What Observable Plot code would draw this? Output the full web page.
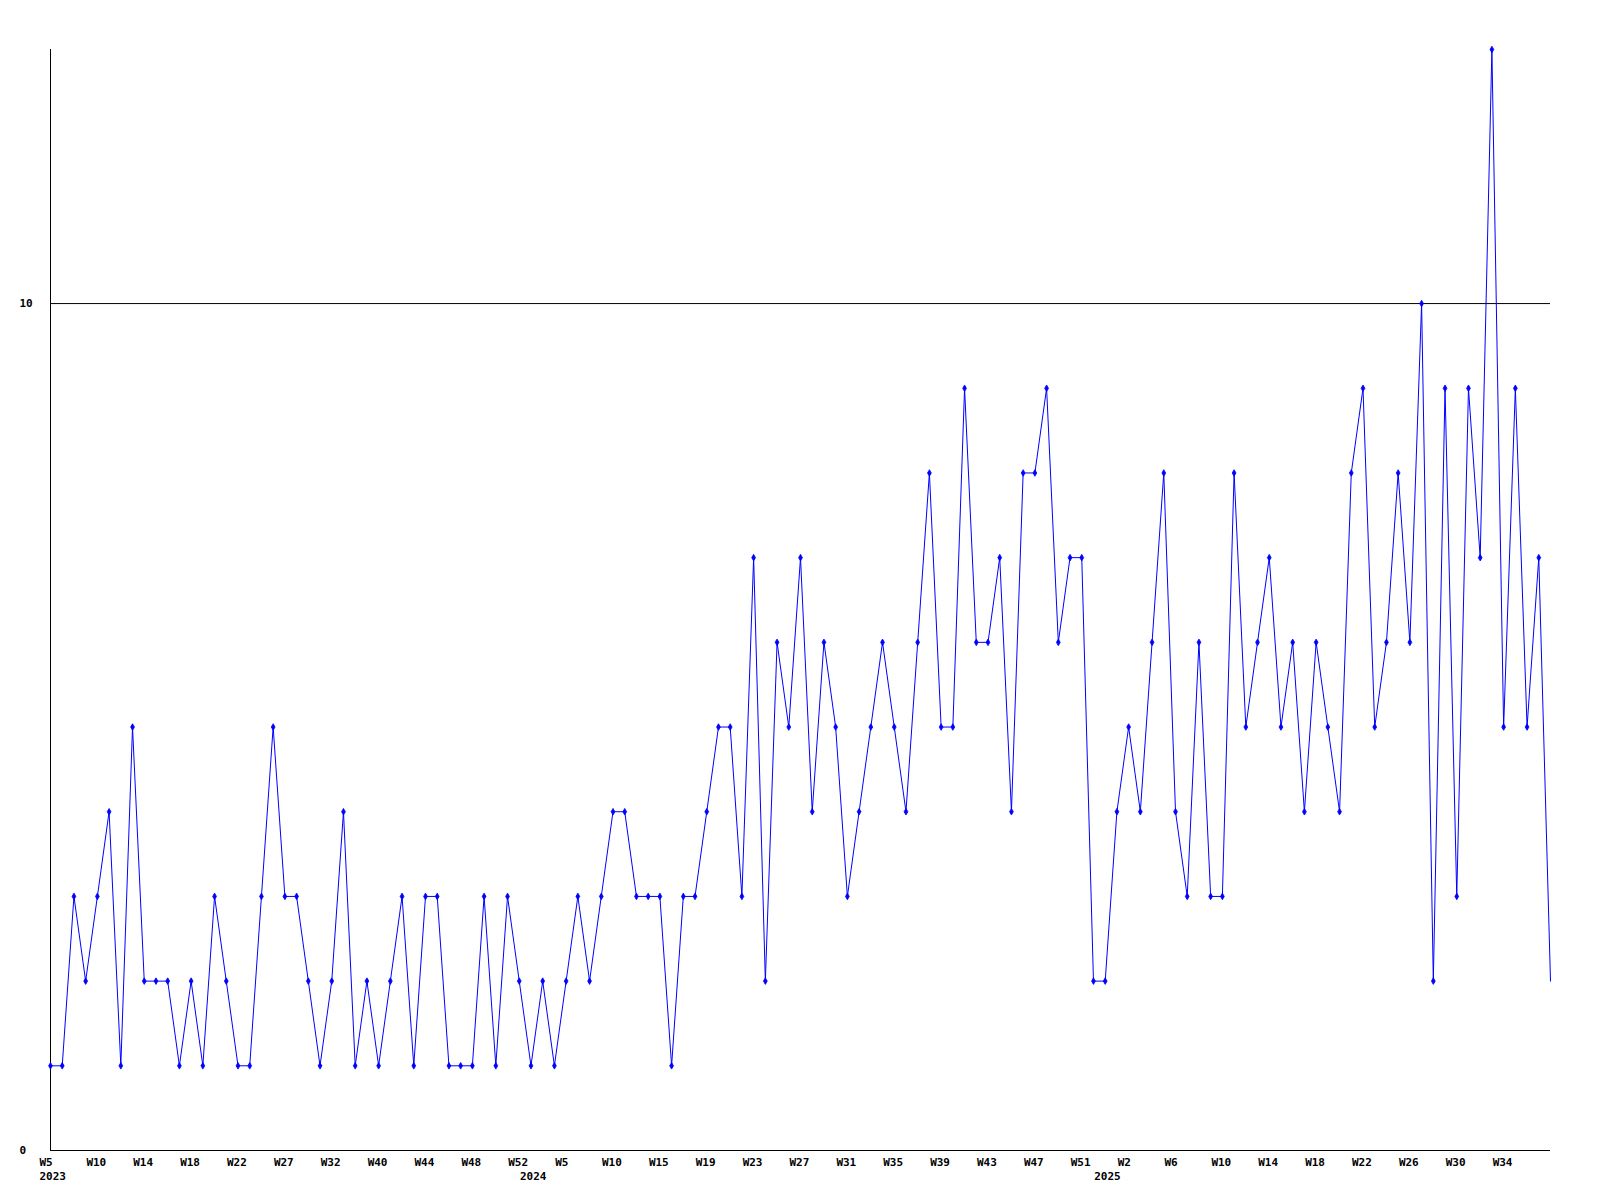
<!DOCTYPE html>
<html>
<head>
<meta charset="utf-8">
<script src="https://cdn.jsdelivr.net/npm/d3@7"></script>
<script src="https://cdn.jsdelivr.net/npm/@observablehq/plot@0.6"></script>
<style>
  html, body { margin: 0; padding: 0; background: #fff; }
  #chart svg { display: block; }
</style>
</head>
<body>
<div id="chart"></div>
<script>
// Week labels per point (categorical; some weeks absent in the source data)
const weeks2023 = ["W5","W6","W7","W8","W10","W11","W12","W13","W14","W15","W16","W17","W18","W19","W20","W21","W22","W23","W24","W25","W27","W28","W29","W30","W32","W34","W36","W38","W40","W41","W42","W43","W44","W45","W46","W47","W48","W49","W50","W51","W52"];
const weeks2024 = ["W1","W2","W3","W5","W6","W7","W8","W10","W11","W12","W13","W15","W16","W17","W18","W19","W20","W21","W22","W23","W24","W25","W26","W27","W28","W29","W30","W31","W32","W33","W34","W35","W36","W37","W38","W39","W40","W41","W42","W43","W44","W45","W46","W47","W48","W49","W50","W51","W52"];
const weeks2025 = ["W0","W1","W2","W3","W4","W5","W6","W7","W8","W9","W10","W11","W12","W13","W14","W15","W16","W17","W18","W19","W20","W21","W22","W23","W24","W25","W26","W27","W28","W29","W30","W31","W32","W33","W34","W35","W36","W37","W38"];
const years = ["2023", "2024", "2025"];

const values = [
  1,1,3,2,3,4,1,5,2,2, 2,1,2,1,3,2,1,1,3,5,
  3,3,2,1,2,4,1,2,1,2, 3,1,3,3,1,1,1,3,1,3,
  2,1,2,1,2,3,2,3,4,4, 3,3,3,1,3,3,4,5,5,3,
  7,2,6,5,7,4,6,5,3,4, 5,6,5,4,6,8,5,5,9,6,
  6,7,4,8,8,9,6,7,7,2, 2,4,5,4,6,8,4,3,6,3,
  3,8,5,6,7,5,6,4,6,5, 4,8,9,5,6,8,6,10,2,9,
  3,9,7,13,5,9,5,7,2
];

const yTicks = [0, 10];
const yMax = 13;
const tickEvery = 4;

// Build table
const weekLists = [weeks2023, weeks2024, weeks2025];
const data = [];
weekLists.forEach((list, yi) => {
  list.forEach((w, wi) => {
    data.push({ key: years[yi] + "-" + w, week: w, year: years[yi], firstOfYear: wi === 0 });
  });
});
data.forEach((d, i) => { d.value = values[i]; d.i = i; });
const keys = data.map(d => d.key);
const lastI = data.length - 1;
const tickData = data.filter(d => d.i % tickEvery === 0 && d.i < lastI);
const yearData = data.filter(d => d.firstOfYear);

const font = "DejaVu Sans Mono, Liberation Mono, monospace";

const chart = Plot.plot({
  width: 1600,
  height: 1200,
  marginLeft: 50,
  marginRight: 50,
  marginTop: 49,
  marginBottom: 50,
  style: { fontFamily: font, fontSize: "11px", fontWeight: "bold", background: "#fff", color: "#000" },
  x: { type: "point", domain: keys, padding: 0, axis: null },
  y: { domain: [0, yMax], axis: null },
  marks: [
    Plot.ruleY([10], { stroke: "#000", strokeWidth: 1 }),
    Plot.ruleY([0], { stroke: "#000", strokeWidth: 1 }),
    Plot.ruleX([keys[0]], { y1: 0, y2: yMax, stroke: "#000", strokeWidth: 1 }),
    Plot.line(data, { x: "key", y: "value", stroke: "#0000ff", strokeWidth: 1 }),
    Plot.dot(data.slice(0, -1), { x: "key", y: "value", symbol: "diamond", r: 2, fill: "#0000ff", stroke: "#0000ff", strokeWidth: 0.8 }),
    Plot.text(tickData, { x: "key", text: "week", frameAnchor: "bottom", dy: 15, dx: -11, textAnchor: "start", fill: "#000" }),
    Plot.text(yearData, { x: "key", text: "year", frameAnchor: "bottom", dy: 29.5, dx: -11, textAnchor: "start", fill: "#000" }),
    Plot.text(yTicks, { y: d => d, text: d => String(d), frameAnchor: "left", dx: -31, textAnchor: "start", fill: "#000" })
  ]
});
document.getElementById("chart").appendChild(chart);
</script>
</body>
</html>
